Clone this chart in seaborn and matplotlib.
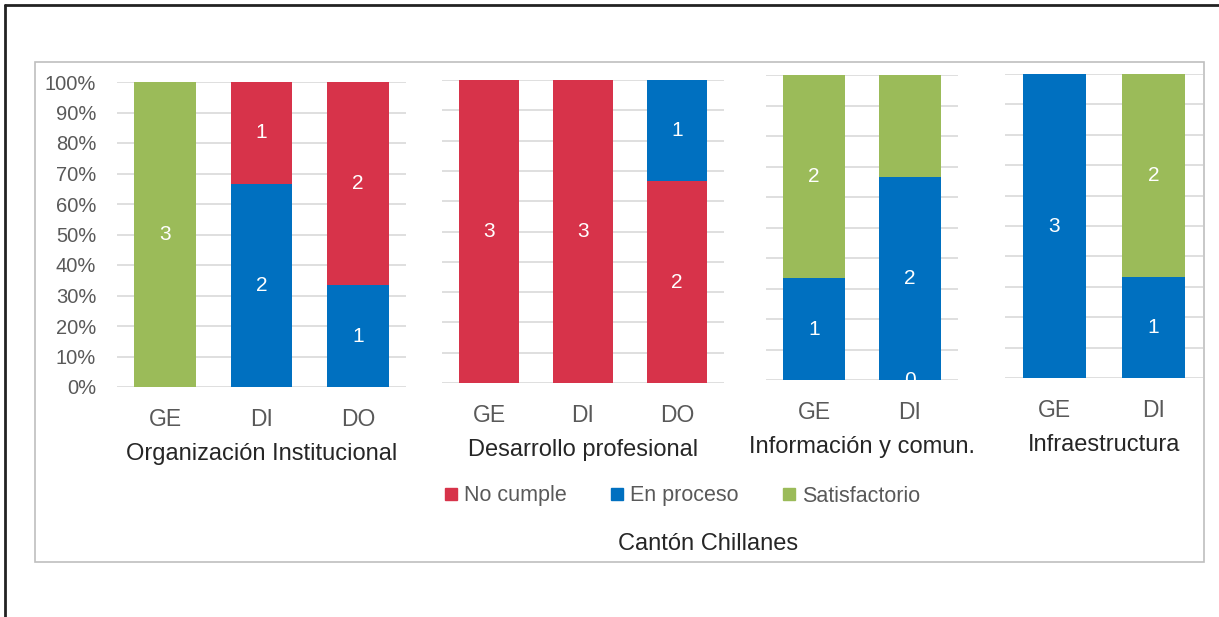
import pandas as pd
import matplotlib.pyplot as plt
import seaborn as sns
from matplotlib.lines import Line2D
from matplotlib.patches import Rectangle

estados = ["No cumple", "En proceso", "Satisfactorio"]
colores = ["#D7334A", "#0070C0", "#9BBB59"]
paleta = dict(zip(estados, colores))

paneles = ["Organización Institucional", "Desarrollo profesional",
           "Información y comun.", "Infraestructura"]
titulo = "Cantón Chillanes"

# segmentos de cada barra, de abajo hacia arriba
org_cats = ["GE", "DI", "DO"]
org_cat = ["GE", "DI", "DI", "DO", "DO"]
org_estado = ["Satisfactorio", "En proceso", "No cumple", "En proceso", "No cumple"]
org_n = [3, 2, 1, 1, 2]
org_lab = ["3", "2", "1", "1", "2"]

des_cats = ["GE", "DI", "DO"]
des_cat = ["GE", "DI", "DO", "DO"]
des_estado = ["No cumple", "No cumple", "No cumple", "En proceso"]
des_n = [3, 3, 2, 1]
des_lab = ["3", "3", "2", "1"]

inf_cats = ["GE", "DI"]
inf_cat = ["GE", "GE", "DI", "DI", "DI"]
inf_estado = ["En proceso", "Satisfactorio", "No cumple", "En proceso", "Satisfactorio"]
inf_n = [1, 2, 0, 2, 1]
inf_lab = ["1", "2", "0", "2", ""]

ifr_cats = ["GE", "DI"]
ifr_cat = ["GE", "DI", "DI"]
ifr_estado = ["En proceso", "En proceso", "Satisfactorio"]
ifr_n = [3, 1, 2]
ifr_lab = ["3", "1", "2"]

sns.set_style("white")
plt.rcParams['font.family'] = ['Liberation Sans', 'DejaVu Sans']

gris = "#595959"


def dibujar(ax, cats, seg_cat, seg_estado, seg_n, seg_lab, nombre, primero):
    df = pd.DataFrame({"cat": seg_cat, "estado": seg_estado, "n": seg_n, "lab": seg_lab})
    df["pct"] = df["n"] / df.groupby("cat")["n"].transform("sum")
    df["tope"] = df.groupby("cat")["pct"].cumsum()
    df["nivel"] = df.groupby("cat").cumcount(ascending=False)
    for nivel in sorted(df["nivel"].unique()):
        sub = df[df["nivel"] == nivel]
        sns.barplot(data=sub, x="cat", y="tope", hue="estado", order=cats,
                    hue_order=estados, palette=paleta, dodge=False, width=0.64,
                    saturation=1, legend=False, ax=ax, zorder=2, linewidth=0)
    for _, r in df.iterrows():
        if r["lab"]:
            ax.text(cats.index(r["cat"]), r["tope"] - r["pct"] / 2, r["lab"],
                    color="white", fontsize=15, ha="center", va="center", zorder=3)
    ax.set_xlim(-0.5, len(cats) - 0.5)
    ax.set_ylim(0, 1)
    ax.set_yticks([i / 10 for i in range(11)])
    if primero:
        ax.set_yticklabels([f"{i * 10}%" for i in range(11)], color=gris, fontsize=14.5)
    else:
        ax.set_yticklabels([])
    ax.yaxis.grid(True, color="#d9d9d9", linewidth=1.2)
    ax.set_axisbelow(True)
    for s in ax.spines.values():
        s.set_visible(False)
    ax.tick_params(axis="both", length=0)
    ax.tick_params(axis="x", pad=15, labelsize=16.5, labelcolor=gris)
    ax.tick_params(axis="y", pad=15)
    ax.set_ylabel("")
    ax.set_xlabel(nombre, fontsize=17, color="#262626", labelpad=9)


fig = plt.figure(figsize=(12.19, 6.17), dpi=100)

posiciones = [
    [117 / 1219, 1 - 387 / 617, 289 / 1219, 305 / 617],
    [442 / 1219, 1 - 383 / 617, 282 / 1219, 303 / 617],
    [766 / 1219, 1 - 380 / 617, 192 / 1219, 305 / 617],
    [1005 / 1219, 1 - 378 / 617, 198 / 1219, 304 / 617],
]
datos = [
    (org_cats, org_cat, org_estado, org_n, org_lab),
    (des_cats, des_cat, des_estado, des_n, des_lab),
    (inf_cats, inf_cat, inf_estado, inf_n, inf_lab),
    (ifr_cats, ifr_cat, ifr_estado, ifr_n, ifr_lab),
]
for i, (pos, d) in enumerate(zip(posiciones, datos)):
    ax = fig.add_axes(pos)
    dibujar(ax, *d, paneles[i], i == 0)

# marco exterior (solo arriba e izquierda) y recuadro gris
fig.add_artist(Line2D([5 / 1219, 1], [1 - 5 / 617, 1 - 5 / 617], color="#222222", linewidth=2))
fig.add_artist(Line2D([5 / 1219, 5 / 1219], [0, 1 - 5 / 617], color="#222222", linewidth=2))
fig.add_artist(Rectangle((35 / 1219, 1 - 562 / 617), 1169 / 1219, 500 / 617,
                         fill=False, edgecolor="#bfbfbf", linewidth=1.2))

handles = [Line2D([], [], marker="s", linestyle="none", markersize=9,
                  markerfacecolor=c, markeredgecolor=c) for c in colores]
fig.legend(handles, estados, loc="center", bbox_to_anchor=(682 / 1219, 1 - 496 / 617),
           ncol=3, frameon=False, fontsize=15.5, labelcolor=gris,
           handletextpad=0.25, columnspacing=2.0, handlelength=0.7)

fig.text(708 / 1219, 1 - 544 / 617, titulo, ha="center", va="center",
         fontsize=17, color="#262626")

fig.savefig("out.png", dpi=100)
